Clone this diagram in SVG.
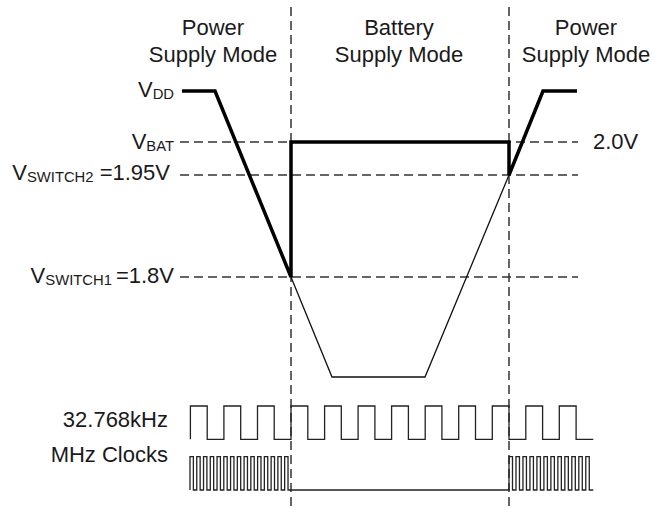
<svg xmlns="http://www.w3.org/2000/svg" width="652" height="508" viewBox="0 0 652 508">
<style>
text{font-family:"Liberation Sans",Arial,sans-serif;font-size:22px;fill:#1a1a1a}
.sub{font-size:14.8px}
.mid{text-anchor:middle}
.end{text-anchor:end}
.dash{fill:none;stroke:#333;stroke-width:1.5;stroke-dasharray:9 5}
.thick{fill:none;stroke:#000;stroke-width:3.5;stroke-linejoin:miter}
.thin{fill:none;stroke:#111;stroke-width:1.3}
.clk{fill:none;stroke:#222;stroke-width:1.3}
</style>
<rect width="652" height="508" fill="#fff"/>
<g id="headers">
<text class="mid" x="213" y="34.5">Power</text>
<text class="mid" x="213" y="61.5">Supply Mode</text>
<text class="mid" x="399" y="34.5">Battery</text>
<text class="mid" x="399" y="61.5">Supply Mode</text>
<text class="mid" x="586" y="34.5">Power</text>
<text class="mid" x="586" y="61.5">Supply Mode</text>
</g>
<g id="labels">
<text class="end" x="174" y="97">V<tspan class="sub" dy="2">DD</tspan></text>
<text class="end" x="174" y="148.5">V<tspan class="sub" dy="2">BAT</tspan></text>
<text class="end" x="170" y="180">V<tspan class="sub" dy="2">SWITCH2</tspan><tspan dy="-2"> =1.95V</tspan></text>
<text class="end" x="174" y="283.3">V<tspan class="sub" dy="2">SWITCH1</tspan><tspan dy="-2" dx="4">=1.8V</tspan></text>
<text x="593" y="148.5">2.0V</text>
<text class="end" x="168" y="426.7">32.768kHz</text>
<text class="end" x="168" y="461.7">MHz Clocks</text>
</g>
<g id="connectors">
<line class="dash" x1="291" y1="7" x2="291" y2="508"/>
<line class="dash" x1="509" y1="7" x2="509" y2="508"/>
<line class="dash" x1="180" y1="142" x2="578" y2="142"/>
<line class="dash" x1="180" y1="175" x2="578" y2="175"/>
<line class="dash" x1="180" y1="277" x2="578" y2="277"/>
<polyline class="thin" points="291,277 332,377 425,377 509,175"/>
<polyline class="thick" points="182,91 215,91 291,277 291,142 509,142 509,175 543,91 577,91"/>
</g>
<g id="clock32k">
<path class="clk" d="M190.4,439.3 V406 H207.2 V439.3 H223.9 V406 H240.7 V439.3 H257.5 V406 H274.2 V439.3 H291 V406 H307.8 V439.3 H324.6 V406 H341.3 V439.3 H358.1 V406 H374.9 V439.3 H391.6 V406 H408.4 V439.3 H425.2 V406 H441.9 V439.3 H458.7 V406 H475.5 V439.3 H492.3 V406 H509 V439.3 H525.8 V406 H542.6 V439.3 H559.3 V406 H576.1 V439.3 H593.3"/>
</g>
<g id="clockMHz">
<path class="clk" d="M190,490 V456.7 H193.38 V490 H196.76 V456.7 H200.14 V490 H203.52 V456.7 H206.9 V490 H210.28 V456.7 H213.66 V490 H217.04 V456.7 H220.42 V490 H223.8 V456.7 H227.18 V490 H230.56 V456.7 H233.94 V490 H237.32 V456.7 H240.7 V490 H244.08 V456.7 H247.46 V490 H250.84 V456.7 H254.22 V490 H257.6 V456.7 H260.98 V490 H264.36 V456.7 H267.74 V490 H271.12 V456.7 H274.5 V490 H277.88 V456.7 H281.26 V490 H284.64 V456.7 H288.02 V490 H509 V456.7 H512.49 V490 H515.98 V456.7 H519.47 V490 H522.96 V456.7 H526.45 V490 H529.94 V456.7 H533.43 V490 H536.92 V456.7 H540.41 V490 H543.9 V456.7 H547.39 V490 H550.88 V456.7 H554.37 V490 H557.86 V456.7 H561.35 V490 H564.84 V456.7 H568.33 V490 H571.82 V456.7 H575.31 V490 H578.8 V456.7 H582.29 V490 H585.78 V456.7 H589.27 V490 H593.3"/>
</g>
</svg>
